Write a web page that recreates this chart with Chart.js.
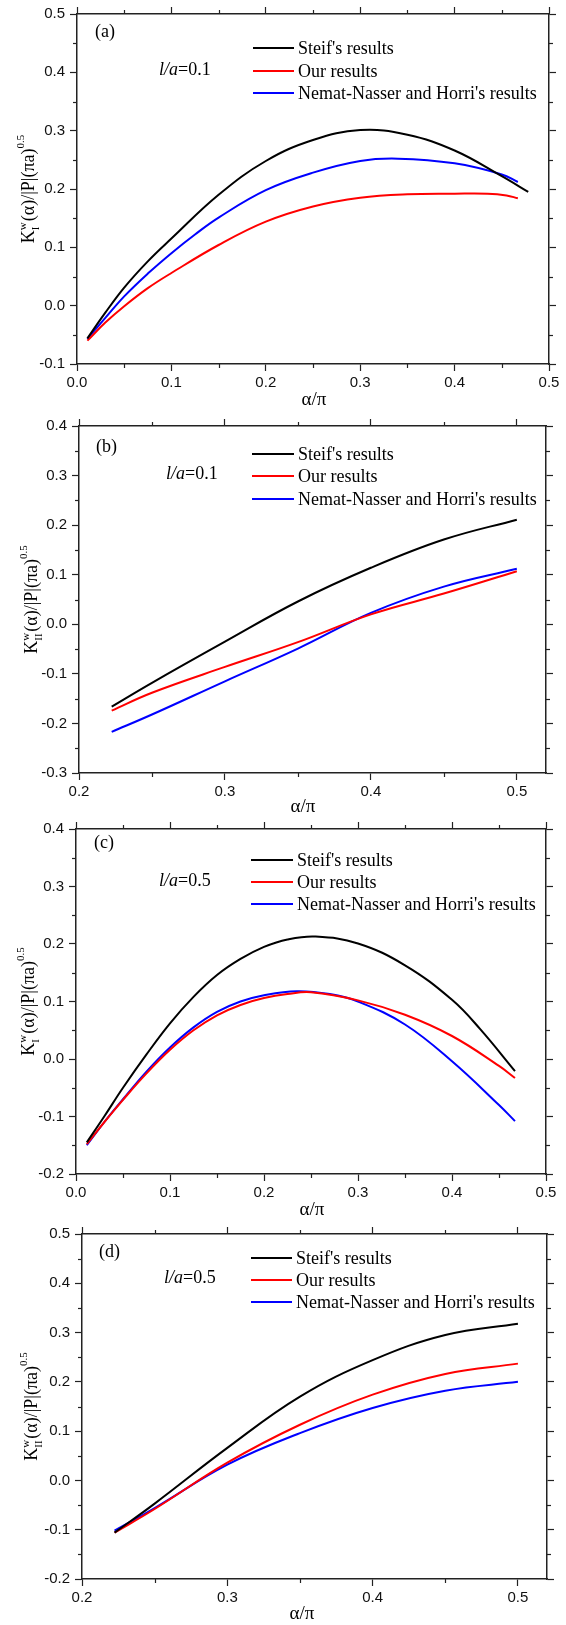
<!DOCTYPE html>
<html>
<head>
<meta charset="utf-8">
<script src="https://cdn.jsdelivr.net/npm/chart.js@4"></script>
<style>
  body { margin: 0; background: #fff; width: 566px; height: 1625px; position: relative; overflow: hidden; }
  .panel { position: absolute; left: 0; width: 566px; }
</style>
</head>
<body>
<div class="panel" style="top:0px"><canvas id="chartA" width="566" height="410"></canvas></div>
<div class="panel" style="top:410px"><canvas id="chartB" width="566" height="405"></canvas></div>
<div class="panel" style="top:815px"><canvas id="chartC" width="566" height="405"></canvas></div>
<div class="panel" style="top:1220px"><canvas id="chartD" width="566" height="405"></canvas></div>
<script>
// Legenda
const seriesLabels = ["Steif's results", "Our results", "Nemat-Nasser and Horri's results"];
const seriesColors = ['#000000', '#ff0000', '#0000ff'];

// (a) K_I, l/a = 0.1
const alphaA_steif = [0.011, 0.03, 0.05, 0.075, 0.1, 0.15, 0.2, 0.25, 0.3, 0.35, 0.4, 0.45, 0.478];
const steifA       = [-0.056, -0.012, 0.031, 0.076, 0.115, 0.19, 0.248, 0.284, 0.301, 0.293, 0.266, 0.222, 0.195];
const alphaA_ours  = [0.011, 0.03, 0.05, 0.075, 0.1, 0.15, 0.2, 0.25, 0.3, 0.35, 0.4, 0.435, 0.455, 0.467];
const oursA        = [-0.06, -0.029, -0.001, 0.03, 0.056, 0.104, 0.144, 0.17, 0.185, 0.191, 0.192, 0.192, 0.189, 0.184];
const alphaA_nh    = [0.011, 0.03, 0.05, 0.075, 0.1, 0.125, 0.15, 0.2, 0.25, 0.3, 0.34, 0.4, 0.45, 0.467];
const nematA       = [-0.057, -0.021, 0.016, 0.055, 0.09, 0.122, 0.151, 0.198, 0.228, 0.248, 0.252, 0.244, 0.225, 0.212];

// (b) K_II, l/a = 0.1
const alphaB = [0.2224, 0.25, 0.3, 0.35, 0.4, 0.45, 0.5];
const steifB = [-0.166, -0.118, -0.035, 0.046, 0.114, 0.171, 0.211];
const oursB  = [-0.174, -0.138, -0.086, -0.036, 0.02, 0.062, 0.107];
const nematB = [-0.217, -0.182, -0.115, -0.049, 0.023, 0.076, 0.112];

// (c) K_I, l/a = 0.5
const alphaC_steif = [0.0115, 0.03, 0.05, 0.075, 0.1, 0.125, 0.15, 0.175, 0.2, 0.225, 0.255, 0.3, 0.35, 0.4, 0.43, 0.467];
const steifC       = [-0.145, -0.1, -0.05, 0.008, 0.062, 0.108, 0.146, 0.174, 0.195, 0.208, 0.213, 0.201, 0.163, 0.103, 0.052, -0.021];
const alphaC_ours  = [0.0115, 0.03, 0.05, 0.075, 0.1, 0.125, 0.15, 0.175, 0.2, 0.225, 0.25, 0.3, 0.35, 0.4, 0.45, 0.467];
const oursC        = [-0.148, -0.11, -0.071, -0.025, 0.016, 0.05, 0.076, 0.094, 0.106, 0.113, 0.116, 0.102, 0.077, 0.04, -0.012, -0.033];
const alphaC_nh    = [0.0115, 0.03, 0.05, 0.075, 0.1, 0.125, 0.15, 0.175, 0.2, 0.235, 0.27, 0.3, 0.35, 0.4, 0.45, 0.467];
const nematC       = [-0.15, -0.11, -0.07, -0.022, 0.02, 0.055, 0.082, 0.1, 0.111, 0.118, 0.113, 0.1, 0.06, -0.004, -0.08, -0.108];

// (d) K_II, l/a = 0.5
const alphaD = [0.2224, 0.25, 0.3, 0.35, 0.4, 0.45, 0.5];
const steifD = [-0.106, -0.047, 0.066, 0.17, 0.244, 0.295, 0.318];
const oursD  = [-0.106, -0.058, 0.036, 0.113, 0.174, 0.216, 0.237];
const nematD = [-0.102, -0.056, 0.032, 0.096, 0.147, 0.182, 0.2];

const tickFont = { family: 'Liberation Sans', size: 15 };
const axisColor = '#222';

function pairs(xs, ys) {
    return xs.map((x, i) => ({ x: x, y: ys[i] }));
}

function isMinor(v) {
    return Math.abs(Math.round(v * 10) - v * 10) > 1e-6;
}

function fmt(v) {
    if (isMinor(v)) return '';
    if (Math.abs(v) < 1e-9) return '0.0';
    return v.toFixed(1);
}

function axis(pos, min, max, size, showLabels) {
    const horiz = pos === 'top' || pos === 'bottom';
    return {
        type: 'linear',
        position: pos,
        min: min,
        max: max,
        afterFit: s => { if (horiz) s.height = size; else s.width = size; },
        border: { display: true, color: axisColor, width: 1.5 },
        grid: {
            drawOnChartArea: false,
            drawTicks: true,
            tickLength: 7,
            tickWidth: 1.2,
            // os ticks menores são desenhados pelo plugin, mais curtos
            tickColor: c => (c.tick && isMinor(c.tick.value)) ? 'rgba(0,0,0,0)' : axisColor
        },
        ticks: {
            display: showLabels,
            stepSize: 0.05,
            includeBounds: false,
            autoSkip: false,
            maxRotation: 0,
            padding: horiz ? 3 : 5,
            color: '#111',
            font: tickFont,
            callback: v => fmt(v)
        }
    };
}

// Ticks menores (mais curtos)
const minorTicks = {
    id: 'minorTicks',
    afterDraw(chart) {
        const ctx = chart.ctx;
        ctx.save();
        ctx.strokeStyle = axisColor;
        ctx.lineWidth = 1.2;
        Object.values(chart.scales).forEach(s => {
            s.ticks.forEach(t => {
                if (!isMinor(t.value)) return;
                const p = Math.round(s.getPixelForValue(t.value)) + 0.5;
                ctx.beginPath();
                if (s.position === 'bottom') { ctx.moveTo(p, s.top); ctx.lineTo(p, s.top + 4); }
                else if (s.position === 'top') { ctx.moveTo(p, s.bottom); ctx.lineTo(p, s.bottom - 4); }
                else if (s.position === 'left') { ctx.moveTo(s.right, p); ctx.lineTo(s.right - 4, p); }
                else { ctx.moveTo(s.left, p); ctx.lineTo(s.left + 4, p); }
                ctx.stroke();
            });
        });
        ctx.restore();
    }
};

// Textos desenhados dentro do canvas (legenda, rótulos, títulos)
function panelText(p) {
    return {
        id: 'panelText',
        afterDraw(chart) {
            const ctx = chart.ctx;
            const area = chart.chartArea;
            const big = '18px "Liberation Serif"';
            const small = '11px "Liberation Serif"';
            ctx.save();
            ctx.fillStyle = '#000';
            ctx.textBaseline = 'middle';
            ctx.textAlign = 'left';

            ctx.font = big;
            ctx.fillText(p.tag, p.tagX, p.tagY - p.top);

            ctx.font = 'italic ' + big;
            ctx.fillText('l/a', p.laX, p.laY - p.top);
            const w = ctx.measureText('l/a').width;
            ctx.font = big;
            ctx.fillText('=' + p.la, p.laX + w, p.laY - p.top);

            chart.data.datasets.forEach((ds, i) => {
                const y = p.legY[i] - p.top;
                ctx.strokeStyle = ds.borderColor;
                ctx.lineWidth = 2;
                ctx.beginPath();
                ctx.moveTo(p.legX0, y);
                ctx.lineTo(p.legX1, y);
                ctx.stroke();
                ctx.fillText(ds.label, p.legX1 + 4, y + 1);
            });

            ctx.textAlign = 'center';
            ctx.font = '19px "Liberation Serif"';
            ctx.fillText('α/π', p.xtX, p.xtY - p.top);

            // titulo do eixo y, girado
            ctx.translate(p.ytX, (area.top + area.bottom) / 2);
            ctx.rotate(-Math.PI / 2);
            ctx.textAlign = 'left';
            ctx.textBaseline = 'alphabetic';
            ctx.font = big;
            const wK = ctx.measureText('K').width;
            const mid = '(α)/|P|(πa)';
            const wMid = ctx.measureText(mid).width;
            ctx.font = small;
            const wSup = Math.max(ctx.measureText('w').width, ctx.measureText(p.mode).width);
            const wExp = ctx.measureText('0.5').width;
            let x = -(wK + wSup + 1 + wMid + wExp) / 2;
            ctx.font = big;
            ctx.fillText('K', x, 0);
            x += wK;
            ctx.font = small;
            ctx.fillText('w', x, -8);
            ctx.fillText(p.mode, x, 5);
            x += wSup + 1;
            ctx.font = big;
            ctx.fillText(mid, x, 0);
            x += wMid;
            ctx.font = small;
            ctx.fillText('0.5', x, -10);
            ctx.restore();
        }
    };
}

function makeChart(id, xs, ys, xRange, yRange, sizes, text) {
    const ctx = document.getElementById(id).getContext('2d');
    new Chart(ctx, {
        type: 'line',
        data: {
            datasets: ys.map((y, i) => ({
                label: seriesLabels[i],
                data: pairs(xs[i], y),
                borderColor: seriesColors[i],
                borderWidth: 2,
                pointRadius: 0,
                fill: false,
                tension: 0.4,
                xAxisID: 'x',
                yAxisID: 'y'
            }))
        },
        options: {
            responsive: false,
            animation: false,
            devicePixelRatio: 1,
            layout: { padding: 0 },
            plugins: { legend: { display: false }, tooltip: { enabled: false } },
            scales: {
                x: axis('bottom', xRange[0], xRange[1], sizes.bottom, true),
                x2: axis('top', xRange[0], xRange[1], sizes.top, false),
                y: axis('left', yRange[0], yRange[1], sizes.left, true),
                y2: axis('right', yRange[0], yRange[1], sizes.right, false)
            }
        },
        plugins: [minorTicks, panelText(text)]
    });
}

makeChart('chartA',
    [alphaA_steif, alphaA_ours, alphaA_nh], [steifA, oursA, nematA],
    [0, 0.5], [-0.1, 0.5],
    { top: 11, bottom: 46, left: 77, right: 17 },
    { top: 0, tag: '(a)', tagX: 95, tagY: 32, la: '0.1', laX: 159, laY: 70,
      legY: [48, 71, 93], legX0: 253, legX1: 294, xtX: 314, xtY: 400, ytX: 34, mode: 'I' });

makeChart('chartB',
    [alphaB, alphaB, alphaB], [steifB, oursB, nematB],
    [0.2, 0.52], [-0.3, 0.4],
    { top: 16, bottom: 42, left: 79, right: 20 },
    { top: 410, tag: '(b)', tagX: 96, tagY: 447, la: '0.1', laX: 166, laY: 474,
      legY: [454, 476, 499], legX0: 252, legX1: 294, xtX: 303, xtY: 807, ytX: 37, mode: 'II' });

makeChart('chartC',
    [alphaC_steif, alphaC_ours, alphaC_nh], [steifC, oursC, nematC],
    [0, 0.5], [-0.2, 0.4],
    { top: 8, bottom: 46, left: 76, right: 20 },
    { top: 815, tag: '(c)', tagX: 94, tagY: 843, la: '0.5', laX: 159, laY: 881,
      legY: [860, 882, 904], legX0: 251, legX1: 293, xtX: 312, xtY: 1210, ytX: 34, mode: 'I' });

makeChart('chartD',
    [alphaD, alphaD, alphaD], [steifD, oursD, nematD],
    [0.2, 0.52], [-0.2, 0.5],
    { top: 12, bottom: 46, left: 82, right: 19 },
    { top: 1220, tag: '(d)', tagX: 99, tagY: 1252, la: '0.5', laX: 164, laY: 1278,
      legY: [1258, 1280, 1302], legX0: 251, legX1: 292, xtX: 302, xtY: 1614, ytX: 37, mode: 'II' });
</script>
</body>
</html>
